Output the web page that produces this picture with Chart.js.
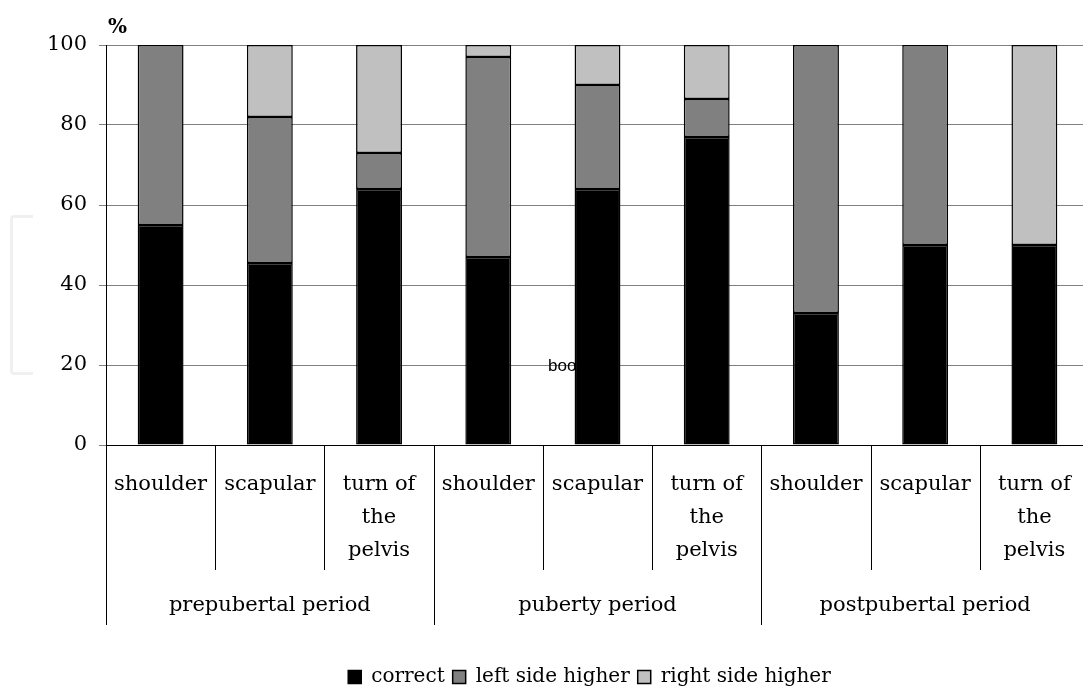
<!DOCTYPE html>
<html>
<head>
<meta charset="utf-8">
<script src="https://cdn.jsdelivr.net/npm/chart.js@4"></script>
<style>
html,body{margin:0;padding:0;background:#fff;overflow:hidden;}
canvas{display:block;}
</style>
</head>
<body>
<canvas id="c" width="1095" height="688"></canvas>
<script>
const categories = [
  ['shoulder'], ['scapular'], ['turn of', 'the', 'pelvis'],
  ['shoulder'], ['scapular'], ['turn of', 'the', 'pelvis'],
  ['shoulder'], ['scapular'], ['turn of', 'the', 'pelvis']
];
const periods = ['prepubertal period', 'puberty period', 'postpubertal period'];
const correct = [55, 45.5, 64, 47, 64, 77, 33, 50, 50];
const leftHigher = [45, 36.5, 9, 50, 26, 9.5, 67, 50, 0];
const rightHigher = [0, 18, 27, 3, 10, 13.5, 0, 0, 50];
const yTicks = [0, 20, 40, 60, 80, 100];

const SERIF = '"DejaVu Serif", serif';

const extras = {
  id: 'extras',
  afterLayout(chart) {
    const lg = chart.legend;
    if (lg) {
      lg.left += 45; lg.right += 45;
      lg.top += 9; lg.bottom += 9;
    }
  },
  beforeDatasetsDraw(chart) {
    const ctx = chart.ctx;
    const y = chart.scales.y;
    ctx.save();
    ctx.fillStyle = '#000';
    ctx.font = '17px "Liberation Sans", Arial, sans-serif';
    ctx.textBaseline = 'middle';
    ctx.textAlign = 'left';
    ctx.fillText('book', 548, y.getPixelForValue(20) + 1);
    ctx.restore();
  },
  afterDraw(chart) {
    const ctx = chart.ctx;
    const x = chart.scales.x;
    const y = chart.scales.y;
    const n = categories.length;
    const step = (x.right - x.left) / n;
    const base = y.getPixelForValue(0);
    ctx.save();
    ctx.strokeStyle = '#000';
    ctx.lineWidth = 1;
    for (let i = 0; i <= n; i++) {
      const px = Math.round(x.left + i * step) + 0.5;
      const major = i % 3 === 0;
      ctx.beginPath();
      ctx.moveTo(px, base);
      ctx.lineTo(px, major ? 625 : 570);
      ctx.stroke();
    }
    ctx.fillStyle = '#000';
    ctx.font = '21px ' + SERIF;
    ctx.textAlign = 'center';
    ctx.textBaseline = 'middle';
    periods.forEach((p, k) => {
      const cx = (x.getPixelForValue(k * 3) + x.getPixelForValue(k * 3 + 2)) / 2;
      ctx.fillText(p, cx, 606);
    });
    ctx.textAlign = 'left';
    ctx.font = 'bold 20px ' + SERIF;
    ctx.fillText('%', 108, 28);
    // faint bracket
    ctx.strokeStyle = '#f0f0f0';
    ctx.lineWidth = 3;
    ctx.beginPath();
    ctx.moveTo(33, 216.5);
    ctx.lineTo(14, 216.5);
    ctx.quadraticCurveTo(11.5, 216.5, 11.5, 219);
    ctx.lineTo(11.5, 371);
    ctx.quadraticCurveTo(11.5, 373.5, 14, 373.5);
    ctx.lineTo(33, 373.5);
    ctx.stroke();
    ctx.restore();
  }
};

new Chart(document.getElementById('c'), {
  type: 'bar',
  data: {
    labels: categories,
    datasets: [
      { label: 'correct', data: correct, backgroundColor: '#000000', borderColor: '#000000', borderWidth: 1.5, borderSkipped: false },
      { label: 'left side higher', data: leftHigher, backgroundColor: '#808080', borderColor: '#000000', borderWidth: 1.5, borderSkipped: false },
      { label: 'right side higher', data: rightHigher, backgroundColor: '#c0c0c0', borderColor: '#000000', borderWidth: 1.5, borderSkipped: false }
    ]
  },
  options: {
    responsive: false,
    animation: false,
    events: [],
    datasets: { bar: { barPercentage: 0.42, categoryPercentage: 1.0 } },
    layout: { padding: { top: 45, right: 6, left: 0, bottom: 0 } },
    plugins: {
      tooltip: { enabled: false },
      legend: {
        position: 'bottom',
        labels: {
          color: '#000',
          font: { family: SERIF, size: 20 },
          boxWidth: 13,
          boxHeight: 13,
          padding: 8
        }
      }
    },
    scales: {
      x: {
        stacked: true,
        grid: { display: false, drawTicks: false },
        border: { display: true, color: '#000', width: 1 },
        ticks: {
          color: '#000',
          font: { family: SERIF, size: 21, lineHeight: 1.57 },
          padding: 23,
          maxRotation: 0,
          autoSkip: false
        },
        afterFit(s) { s.height = 205; }
      },
      y: {
        stacked: true,
        min: 0,
        max: 100,
        afterBuildTicks(s) { s.ticks = yTicks.map(v => ({ value: v })); },
        grid: { color: '#808080', lineWidth: 1, tickLength: 7, tickColor: '#808080' },
        border: { display: true, color: '#000', width: 1 },
        ticks: {
          color: '#000',
          font: { family: SERIF, size: 21 },
          padding: 12
        },
        afterFit(s) { s.width = 106; }
      }
    }
  },
  plugins: [extras]
});
</script>
</body>
</html>
